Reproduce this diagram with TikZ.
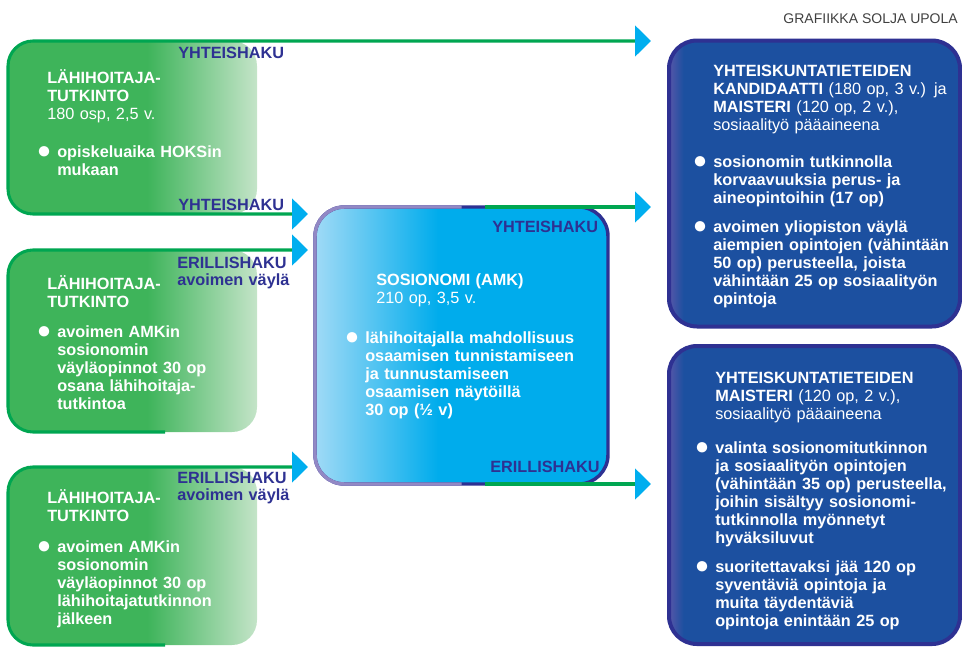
\documentclass[tikz,border=0pt]{standalone}
\usepackage{fontspec}
\setmainfont{Liberation Sans}
\usepackage{xcolor}
\usepackage{tikz}
\usetikzlibrary{arrows.meta}

\definecolor{linegreen}{RGB}{0,166,81}
\definecolor{boxgreen}{RGB}{62,180,90}
\definecolor{palegreen}{RGB}{196,228,200}
\definecolor{hakunavy}{RGB}{46,49,146}
\definecolor{tipcyan}{RGB}{0,174,239}
\definecolor{soslight}{RGB}{160,218,246}
\definecolor{soscyan}{RGB}{0,172,236}
\definecolor{soslilac}{RGB}{146,136,196}
\definecolor{ytblue}{RGB}{28,80,160}
\definecolor{ytlilac}{RGB}{86,86,168}
\definecolor{creditgray}{RGB}{64,64,64}

\pgfdeclarehorizontalshading{greenfade}{100bp}{color(0bp)=(boxgreen); color(53bp)=(boxgreen); color(75bp)=(palegreen); color(100bp)=(palegreen)}
\pgfdeclarehorizontalshading{sosfade}{100bp}{color(0bp)=(soslight); color(25bp)=(soslight); color(46bp)=(soscyan); color(100bp)=(soscyan)}
\pgfdeclarehorizontalshading{ytfade}{100bp}{color(0bp)=(ytlilac); color(25bp)=(ytlilac); color(27.5bp)=(ytblue); color(100bp)=(ytblue)}

\newcommand{\txt}{\fontsize{12.2pt}{13.6pt}\selectfont}
\newcommand{\bul}{\leavevmode\llap{\raisebox{-1.2pt}{\fontsize{18pt}{0pt}\selectfont ●}\hskip 4.5pt}}

\tikzset{cyantri/.tip={Triangle[length=12pt,width=23pt,color=tipcyan]}}

\begin{document}
\begin{tikzpicture}[x=0.75pt, y=-0.75pt,
    greenbox/.style={shade, shading=greenfade, rounded corners=18.75pt, inner sep=0, outer sep=0},
    sosbox/.style={shade, shading=sosfade, draw=hakunavy, line width=2.6pt, rounded corners=22pt, inner sep=0, outer sep=0},
    ytbox/.style={shade, shading=ytfade, draw=hakunavy, line width=3pt, rounded corners=21pt, inner sep=0, outer sep=0},
    link/.style={draw=linegreen, line width=2.3pt},
    sosrim/.style={draw=soslilac, line width=2.6pt, rounded corners=22pt},
    boxtext/.style={text=white, inner sep=0, anchor=base west, align=left, text width=200pt, font=\txt},
    haku/.style={text=hakunavy, inner sep=0, anchor=base west, align=left, text width=120pt, font=\fontsize{12.2pt}{12.8pt}\selectfont\bfseries}]
  \useasboundingbox (0,0) rectangle (962,646);

  % boxes
  \node[greenbox, minimum width=186.75pt, minimum height=129.75pt] (lahi1) at (132.5,127.5) {};
  \node[greenbox, minimum width=186.75pt, minimum height=136.5pt] (lahi2) at (132.5,341) {};
  \node[greenbox, minimum width=186.75pt, minimum height=133.5pt] (lahi3) at (132.5,556) {};
  \node[sosbox, minimum width=219.75pt, minimum height=207.75pt] (sosio) at (461.5,345.5) {};
  \node[ytbox, minimum width=218.25pt, minimum height=214.5pt] (ytk) at (814.5,183.5) {};
  \node[ytbox, minimum width=218.25pt, minimum height=223.5pt] (ytm) at (814.5,495) {};

  \coordinate (ar1) at (651,41);
  \coordinate (ar2) at (308,214);
  \coordinate (ar3) at (308,250);
  \coordinate (ar4) at (308,467);
  \coordinate (ar5) at (651,207);
  \coordinate (ar6) at (651,484);
  \coordinate (end2) at (165,432);
  \coordinate (end3) at (165,645);
  \coordinate (sosout1) at (485,207);
  \coordinate (sosout2) at (485,484);

  % green lines
  \draw[link, rounded corners=18.75pt, cyantri-cyantri] (ar1) -| (lahi1.west) |- (ar2);
  \draw[link, rounded corners=18.75pt, cyantri-] (ar3) -| (lahi2.west) |- (end2);
  \draw[link, rounded corners=18.75pt, cyantri-] (ar4) -| (lahi3.west) |- (end3);
  \draw[sosrim] (sosio.north) -| (sosio.west) |- (sosio.south);
  \draw[link, -cyantri] (sosout1) -- (ar5);
  \draw[link, -cyantri] (sosout2) -- (ar6);

  % labels
  \node[haku] (haku1) at (178,58) {YHTEISHAKU};
  \node[haku] (haku2) at (178,210) {YHTEISHAKU};
  \node[haku] (haku3) at (177,268) {ERILLISHAKU\\avoimen väylä};
  \node[haku] (haku4) at (177,483) {ERILLISHAKU\\avoimen väylä};
  \node[haku] (haku5) at (492,232) {YHTEISHAKU};
  \node[haku] (haku6) at (490,472) {ERILLISHAKU};

  % texts
  \node[boxtext] (lahi1h) at (47,83) {\bfseries LÄHIHOITAJA-\\TUTKINTO\\\mdseries 180 osp, 2,5 v.};
  \node[boxtext] (lahi1b) at (57,157) {\bfseries\bul opiskeluaika HOKSin\\mukaan};
  \node[boxtext] (lahi2h) at (47,289) {\bfseries LÄHIHOITAJA-\\TUTKINTO};
  \node[boxtext] (lahi2b) at (57,337) {\bfseries\bul avoimen AMKin\\sosionomin\\väyläopinnot 30 op\\osana lähihoitaja-\\tutkintoa};
  \node[boxtext] (lahi3h) at (47,503) {\bfseries LÄHIHOITAJA-\\TUTKINTO};
  \node[boxtext] (lahi3b) at (57,552) {\bfseries\bul avoimen AMKin\\sosionomin\\väyläopinnot 30 op\\lähihoitajatutkinnon\\jälkeen};
  \node[boxtext] (sosioh) at (376,285) {\bfseries SOSIONOMI (AMK)\\\mdseries 210 op, 3,5 v.};
  \node[boxtext] (sosiob) at (365,343) {\bfseries\bul lähihoitajalla mahdollisuus\\osaamisen tunnistamiseen\\ja tunnustamiseen\\osaamisen näytöillä\\30 op (½ v)};
  \node[boxtext] (ytkh) at (713,76) {\textbf{YHTEISKUNTATIETEIDEN}\\\textbf{KANDIDAATTI} (180 op, 3 v.) ja\\\textbf{MAISTERI} (120 op, 2 v.),\\sosiaalityö pääaineena};
  \node[boxtext] (ytkb1) at (713,167) {\bfseries\bul sosionomin tutkinnolla\\korvaavuuksia perus- ja\\aineopintoihin (17 op)};
  \node[boxtext] (ytkb2) at (713,232) {\bfseries\bul avoimen yliopiston väylä\\aiempien opintojen (vähintään\\50 op) perusteella, joista\\vähintään 25 op sosiaalityön\\opintoja};
  \node[boxtext] (ytmh) at (715,383) {\textbf{YHTEISKUNTATIETEIDEN}\\\textbf{MAISTERI} (120 op, 2 v.),\\sosiaalityö pääaineena};
  \node[boxtext] (ytmb1) at (715,453) {\bfseries\bul valinta sosionomitutkinnon\\ja sosiaalityön opintojen\\(vähintään 35 op) perusteella,\\joihin sisältyy sosionomi-\\tutkinnolla myönnetyt\\hyväksiluvut};
  \node[boxtext] (ytmb2) at (715,572) {\bfseries\bul suoritettavaksi jää 120 op\\syventäviä opintoja ja\\muita täydentäviä\\opintoja enintään 25 op};

  \node[text=creditgray, inner sep=0, anchor=base east, font=\fontsize{10.5pt}{12pt}\selectfont] (credit) at (958,23) {GRAFIIKKA SOLJA UPOLA};
\end{tikzpicture}
\end{document}
